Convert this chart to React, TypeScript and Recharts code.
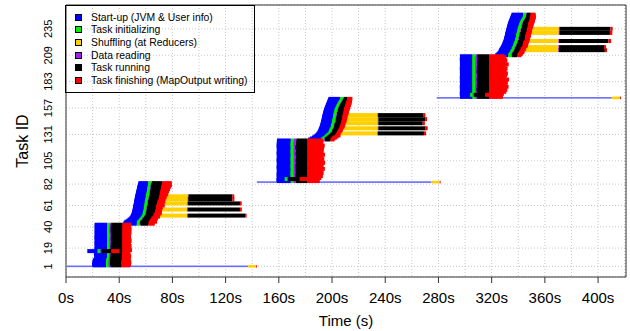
import {
  Bar,
  BarChart,
  CartesianGrid,
  Label,
  Legend,
  ReferenceArea,
  XAxis,
  YAxis,
} from "recharts";

const FONT = '"Liberation Sans", Arial, Helvetica, sans-serif';

// one task = [start, startUp, init, shuffle, read, run, finish] in seconds
type Task = number[];

const job1Master: Task = [0.5, 136.5, 0, 6.0, 0, 0, 0.6];
const job1Maps: Task[] = [
  [20.0, 10.2, 2.0, 0, 1.5, 8.0, 6.5], [19.6, 10.4, 2.2, 0, 1.2, 8.5, 7.0], [20.2, 10.0, 2.0, 0, 1.0, 8.8, 5.5],
  [19.8, 10.5, 1.8, 0, 1.4, 8.0, 7.6], [20.4, 9.8, 2.1, 0, 0.8, 9.0, 6.0], [20.1, 10.1, 2.0, 0, 1.2, 8.4, 5.2],
  [21.5, 9.4, 1.9, 0, 1.0, 8.6, 6.4], [21.2, 9.6, 2.0, 0, 0.6, 9.2, 4.8], [21.6, 9.2, 2.2, 0, 1.1, 8.0, 5.5],
  [21.4, 9.5, 1.8, 0, 0.9, 8.8, 6.6], [21.8, 9.0, 2.0, 0, 1.3, 8.2, 5.0], [21.0, 9.8, 2.0, 0, 1.0, 8.5, 6.2],
  [21.5, 9.3, 2.2, 0, 0.7, 8.9, 5.6], [21.3, 9.6, 1.9, 0, 1.2, 8.3, 4.6], [16.0, 7.6, 2.4, 0, 0.8, 7.2, 6.2],
  [21.7, 9.1, 2.0, 0, 0.9, 9.1, 6.8], [21.4, 9.6, 2.1, 0, 1.4, 7.9, 5.4], [21.8, 9.2, 1.8, 0, 1.0, 8.7, 6.0],
  [21.5, 9.5, 2.0, 0, 0.6, 9.3, 4.9], [21.9, 9.0, 2.2, 0, 1.2, 8.1, 6.9], [21.6, 9.4, 1.9, 0, 0.8, 8.8, 5.3],
  [21.7, 9.3, 2.0, 0, 1.5, 7.8, 6.4], [21.4, 9.7, 2.1, 0, 0.9, 8.6, 4.8], [21.8, 9.1, 1.8, 0, 1.1, 9.0, 5.9],
  [21.6, 9.5, 2.0, 0, 0.7, 8.4, 7.1], [21.9, 9.0, 2.2, 0, 1.3, 8.2, 5.2], [21.5, 9.4, 1.9, 0, 1.0, 8.9, 6.3],
  [21.7, 9.2, 2.0, 0, 0.8, 9.2, 4.7], [21.4, 9.6, 2.1, 0, 1.2, 8.0, 6.6], [21.8, 9.3, 1.9, 0, 0.9, 8.7, 5.5],
  [21.6, 9.4, 2.0, 0, 1.4, 8.1, 6.0], [21.9, 9.1, 2.2, 0, 0.6, 9.1, 5.0], [21.5, 9.5, 1.8, 0, 1.1, 8.5, 6.8],
  [21.7, 9.2, 2.0, 0, 0.8, 8.8, 5.4], [21.6, 9.6, 2.1, 0, 1.2, 8.3, 6.2], [21.8, 9.0, 1.9, 0, 1.0, 9.0, 4.6],
  [21.5, 9.5, 2.0, 0, 0.7, 8.6, 7.0], [21.9, 9.2, 2.2, 0, 1.3, 8.2, 5.7], [21.6, 9.4, 1.8, 0, 0.9, 8.9, 6.1],
  [21.7, 9.3, 2.0, 0, 1.1, 8.4, 5.0], [21.5, 9.6, 2.1, 0, 0.8, 8.7, 6.4],
];
const job1Wave2: Task[] = [
  [43.0, 10.2, 2.3, 0, 0.6, 5.8, 4.8], [43.4, 10.0, 2.1, 0, 0.5, 6.4, 3.9], [44.0, 9.8, 2.4, 0, 0.7, 6.0, 5.6],
  [45.4, 9.4, 2.2, 0, 0.5, 5.6, 4.3], [46.3, 9.0, 2.0, 0, 0.6, 6.2, 3.6], [47.2, 8.8, 2.3, 0, 0.5, 5.4, 4.9],
  [48.0, 8.6, 2.1, 0, 0.4, 5.9, 3.8], [48.5, 8.5, 2.2, 0, 0.6, 6.3, 4.6], [48.9, 8.8, 2.3, 31.0, 0.4, 43.2, 1.2],
  [49.2, 8.4, 2.0, 0, 0.5, 5.7, 3.5], [49.5, 8.3, 2.1, 0, 0.5, 6.8, 4.4], [49.7, 8.4, 2.3, 0, 0.6, 5.9, 5.2],
  [49.9, 8.2, 2.0, 0, 0.4, 6.5, 3.9], [50.1, 8.5, 2.2, 0, 0.5, 6.1, 4.8], [50.2, 8.4, 2.2, 30.1, 0.5, 39.4, 1.4],
  [50.4, 8.1, 2.1, 0, 0.6, 7.0, 3.6], [50.5, 8.2, 2.0, 0, 0.5, 6.6, 5.0], [50.7, 8.4, 2.3, 0, 0.4, 6.0, 4.2],
  [50.8, 8.1, 2.1, 0, 0.6, 7.2, 5.4], [51.0, 8.3, 2.2, 0, 0.5, 6.4, 3.8], [51.1, 8.2, 2.1, 29.7, 0.5, 39.2, 1.3],
  [51.2, 8.0, 2.0, 0, 0.5, 7.0, 4.9], [51.4, 8.1, 2.2, 0, 0.6, 6.8, 5.6], [51.5, 8.3, 2.0, 0, 0.4, 7.4, 4.3],
  [51.7, 8.1, 2.2, 29.4, 0.5, 33.2, 1.5], [51.8, 8.2, 2.1, 0, 0.6, 7.5, 4.6], [52.0, 8.1, 2.2, 0, 0.5, 7.0, 5.8],
  [52.1, 8.0, 2.2, 29.3, 0.5, 33.0, 1.4], [52.3, 8.2, 2.0, 0, 0.6, 7.6, 5.0], [52.5, 8.0, 2.3, 0, 0.5, 7.1, 6.4],
  [52.7, 7.9, 2.1, 0, 0.5, 7.4, 5.6], [52.8, 8.1, 2.2, 0, 0.5, 7.8, 5.4], [53.0, 7.9, 2.1, 0, 0.6, 7.3, 6.6],
  [53.2, 8.0, 2.3, 0, 0.4, 8.0, 5.2], [53.4, 7.8, 2.0, 0, 0.5, 7.6, 6.9], [53.5, 7.9, 2.2, 0, 0.6, 8.2, 5.8],
  [53.7, 7.7, 2.1, 0, 0.5, 7.4, 7.2], [53.9, 7.8, 2.3, 0, 0.5, 8.1, 6.4], [54.1, 7.6, 2.0, 0, 0.6, 7.8, 7.5],
  [54.3, 7.7, 2.2, 0, 0.4, 8.4, 6.0], [54.5, 7.5, 2.1, 0, 0.5, 7.9, 7.0],
];

const job2Master: Task = [143.5, 131.0, 0, 6.5, 0, 0, 0.6];
const job2Maps: Task[] = [
  [158.6, 10.4, 2.3, 0, 1.6, 8.4, 9.5], [158.2, 10.8, 2.5, 0, 2.2, 7.6, 8.8], [158.4, 6.0, 1.8, 0, 1.0, 8.4, 11.0],
  [158.8, 10.2, 2.4, 0, 3.0, 7.2, 10.4], [158.5, 10.6, 2.2, 0, 1.8, 8.6, 9.0], [158.9, 10.0, 2.6, 0, 2.6, 7.4, 11.6],
  [158.3, 10.7, 2.3, 0, 1.2, 9.0, 8.2], [158.7, 10.3, 2.5, 0, 3.4, 6.8, 10.9], [158.4, 10.5, 2.2, 0, 2.0, 8.2, 12.4],
  [158.8, 10.1, 2.4, 0, 1.5, 8.8, 9.6], [158.5, 10.6, 2.3, 0, 2.8, 7.0, 11.2], [158.9, 10.2, 2.5, 0, 1.0, 9.2, 8.6],
  [158.6, 10.4, 2.2, 0, 3.2, 7.4, 12.8], [158.3, 10.7, 2.4, 0, 1.9, 8.4, 10.0], [158.7, 10.3, 2.6, 0, 2.4, 7.8, 11.5],
  [158.4, 10.5, 2.3, 0, 1.3, 8.9, 9.2], [158.8, 10.1, 2.5, 0, 3.0, 7.1, 12.2], [158.5, 10.6, 2.2, 0, 2.2, 8.0, 10.6],
  [158.9, 10.2, 2.4, 0, 1.6, 8.7, 13.0], [158.6, 10.4, 2.3, 0, 2.7, 7.5, 9.8], [158.3, 10.7, 2.5, 0, 1.1, 9.3, 11.9],
  [158.7, 10.3, 2.2, 0, 3.3, 7.0, 10.3], [158.4, 10.5, 2.4, 0, 2.0, 8.3, 12.6], [158.8, 10.1, 2.6, 0, 1.4, 8.8, 9.4],
  [158.5, 10.6, 2.3, 0, 2.9, 7.3, 11.4], [158.9, 10.2, 2.5, 0, 1.7, 8.5, 10.8], [158.6, 10.4, 2.2, 0, 2.5, 7.8, 13.2],
  [158.3, 10.7, 2.4, 0, 1.2, 9.1, 9.7], [158.7, 10.3, 2.3, 0, 3.1, 7.2, 11.8], [158.4, 10.5, 2.5, 0, 1.8, 8.6, 10.2],
  [158.8, 10.1, 2.2, 0, 2.3, 7.9, 12.5], [158.5, 10.6, 2.4, 0, 1.5, 8.8, 9.0], [158.9, 10.2, 2.6, 0, 2.8, 7.4, 11.0],
  [158.6, 10.4, 2.3, 0, 1.0, 9.4, 12.3], [158.3, 10.7, 2.5, 0, 3.2, 7.0, 10.5], [158.7, 10.3, 2.2, 0, 2.1, 8.2, 13.0],
  [158.4, 10.5, 2.4, 0, 1.6, 8.7, 9.9], [158.8, 10.1, 2.3, 0, 2.6, 7.6, 11.7], [158.5, 10.6, 2.5, 0, 1.3, 9.0, 10.4],
  [158.9, 10.2, 2.2, 0, 3.0, 7.2, 12.1], [158.6, 10.4, 2.4, 0, 1.9, 8.4, 11.3],
];
const job2Wave2: Task[] = [
  [182.0, 9.6, 2.4, 0, 0.6, 4.2, 3.0], [183.5, 9.2, 2.2, 0, 0.5, 4.6, 2.6], [185.0, 8.8, 2.3, 0, 0.4, 4.0, 3.4],
  [186.0, 8.6, 2.1, 0, 0.6, 4.8, 2.8], [187.0, 8.5, 2.4, 0, 0.5, 4.3, 3.6], [188.0, 8.4, 2.2, 0, 0.5, 4.0, 3.0],
  [188.5, 9.0, 2.3, 34.2, 0.5, 34.6, 1.6], [189.0, 8.4, 2.3, 0, 0.4, 3.6, 2.8], [189.5, 8.3, 2.1, 0, 0.6, 4.0, 2.6],
  [189.8, 8.5, 2.2, 0, 0.5, 3.8, 3.0], [190.1, 8.2, 2.4, 0, 0.5, 4.2, 2.8], [190.4, 8.8, 2.2, 32.9, 0.5, 35.6, 1.5],
  [190.7, 8.4, 2.2, 0, 0.4, 4.0, 3.2], [191.0, 8.3, 2.3, 0, 0.6, 4.2, 3.0], [191.2, 8.1, 2.1, 0, 0.5, 4.6, 3.2],
  [191.4, 8.4, 2.2, 0, 0.5, 4.1, 3.4], [191.6, 8.5, 2.2, 32.0, 0.5, 33.4, 1.6], [191.8, 8.2, 2.4, 0, 0.4, 4.3, 3.2],
  [192.0, 8.3, 2.2, 0, 0.6, 4.0, 3.6], [192.2, 8.1, 2.3, 0, 0.5, 4.5, 3.4], [192.3, 8.3, 2.3, 31.5, 0.4, 35.2, 1.4],
  [192.5, 8.2, 2.1, 0, 0.5, 4.2, 3.8], [192.6, 8.4, 2.2, 0, 0.4, 4.4, 3.4], [192.8, 8.2, 2.3, 0, 0.6, 4.0, 3.8],
  [193.0, 8.2, 2.1, 30.8, 0.5, 33.8, 1.8], [193.2, 8.0, 2.2, 0, 0.5, 4.6, 3.6], [193.4, 8.3, 2.1, 0, 0.5, 4.2, 3.8],
  [193.6, 8.1, 2.4, 0, 0.4, 4.4, 3.4], [193.8, 8.2, 2.2, 0, 0.6, 4.0, 4.0], [194.0, 8.0, 2.3, 0, 0.5, 4.4, 3.6],
  [194.3, 8.3, 2.1, 0, 0.5, 3.8, 4.2], [194.6, 8.1, 2.2, 0, 0.4, 4.2, 3.8], [194.9, 8.4, 2.3, 0, 0.6, 3.6, 4.0],
  [195.2, 8.2, 2.2, 0, 0.5, 3.8, 3.6], [195.5, 8.4, 2.1, 0, 0.5, 3.6, 4.2], [195.8, 8.5, 2.4, 0, 0.4, 3.4, 3.8],
  [196.1, 8.6, 2.2, 0, 0.6, 3.2, 4.0], [196.4, 8.8, 2.3, 0, 0.5, 3.0, 3.6], [196.7, 9.0, 2.2, 0, 0.4, 2.9, 3.8],
  [197.0, 9.2, 2.1, 0, 0.5, 2.8, 3.4], [197.3, 9.0, 2.2, 0, 0.4, 2.8, 3.6],
];

const job3Master: Task = [278.7, 131.6, 0, 6.2, 0, 0, 0.7];
const job3Maps: Task[] = [
  [296.2, 9.4, 2.3, 0, 1.2, 9.0, 10.4], [296.6, 9.0, 2.5, 0, 0.8, 9.6, 8.6], [298.4, 5.4, 2.0, 0, 1.0, 8.2, 11.6],
  [296.0, 9.6, 2.2, 0, 1.6, 8.6, 11.2], [296.4, 9.3, 2.4, 0, 2.2, 8.0, 9.5], [296.8, 8.9, 2.3, 0, 1.0, 9.4, 12.6],
  [296.1, 9.6, 2.5, 0, 2.6, 7.6, 10.2], [296.5, 9.2, 2.2, 0, 0.7, 9.8, 13.4], [296.3, 9.4, 2.4, 0, 1.8, 8.4, 9.8],
  [296.7, 9.0, 2.3, 0, 2.9, 7.4, 12.0], [296.0, 9.7, 2.5, 0, 1.3, 9.0, 14.2], [296.4, 9.3, 2.2, 0, 0.9, 9.5, 10.8],
  [296.8, 8.9, 2.4, 0, 2.4, 7.9, 12.9], [296.2, 9.5, 2.3, 0, 1.5, 8.8, 9.4], [296.6, 9.1, 2.5, 0, 3.0, 7.2, 13.8],
  [296.1, 9.6, 2.2, 0, 1.1, 9.3, 11.5], [296.5, 9.2, 2.4, 0, 2.0, 8.2, 10.0], [296.3, 9.4, 2.3, 0, 0.8, 9.7, 14.6],
  [296.7, 9.0, 2.5, 0, 2.7, 7.6, 11.0], [296.0, 9.7, 2.2, 0, 1.4, 8.9, 12.4], [296.4, 9.3, 2.4, 0, 2.3, 8.0, 9.6],
  [296.8, 8.9, 2.3, 0, 1.0, 9.4, 13.2], [296.2, 9.5, 2.5, 0, 1.9, 8.5, 10.6], [296.6, 9.1, 2.2, 0, 2.8, 7.5, 14.0],
  [296.1, 9.6, 2.4, 0, 1.2, 9.1, 11.8], [296.5, 9.2, 2.3, 0, 0.7, 9.8, 9.2], [296.3, 9.4, 2.5, 0, 2.5, 7.8, 12.8],
  [296.7, 9.0, 2.2, 0, 1.6, 8.7, 10.4], [296.0, 9.7, 2.4, 0, 2.1, 8.2, 13.6], [296.4, 9.3, 2.3, 0, 0.9, 9.5, 11.2],
  [296.8, 8.9, 2.5, 0, 3.0, 7.3, 12.2], [296.2, 9.5, 2.2, 0, 1.3, 9.0, 9.8], [296.6, 9.1, 2.4, 0, 2.4, 7.9, 14.4],
  [296.1, 9.6, 2.3, 0, 1.7, 8.6, 10.9], [296.5, 9.2, 2.5, 0, 0.8, 9.6, 12.6], [296.3, 9.4, 2.2, 0, 2.6, 7.7, 10.2],
  [296.7, 9.0, 2.4, 0, 1.1, 9.2, 13.4], [296.0, 9.7, 2.3, 0, 2.2, 8.1, 11.4], [296.4, 9.3, 2.5, 0, 1.5, 8.8, 9.5],
  [296.8, 8.9, 2.2, 0, 2.9, 7.4, 12.8], [296.2, 9.5, 2.4, 0, 1.0, 9.3, 11.0],
];
const job3Wave2: Task[] = [
  [322.6, 9.8, 2.4, 0, 0.5, 4.0, 3.0], [323.5, 9.5, 2.3, 0, 0.6, 3.8, 3.4], [324.3, 9.3, 2.2, 0, 0.5, 4.2, 3.0],
  [325.0, 9.2, 2.4, 0, 0.4, 3.9, 3.6], [325.3, 9.0, 2.3, 0, 0.5, 4.4, 3.2], [325.6, 10.2, 2.4, 31.8, 0.5, 34.6, 1.6],
  [326.1, 8.9, 2.2, 0, 0.6, 4.0, 3.8], [326.6, 8.8, 2.3, 0, 0.5, 4.3, 3.4], [327.0, 9.4, 2.3, 31.5, 0.5, 33.8, 1.5],
  [327.4, 8.7, 2.2, 0, 0.4, 4.5, 3.6], [327.8, 8.6, 2.4, 0, 0.6, 4.1, 3.8], [328.1, 8.8, 2.2, 0, 0.5, 4.4, 3.2],
  [328.4, 8.5, 2.3, 0, 0.5, 4.0, 3.9], [328.7, 8.7, 2.1, 0, 0.4, 4.6, 3.4], [329.0, 8.8, 2.2, 30.2, 0.4, 37.2, 2.0],
  [329.2, 8.6, 2.3, 0, 0.6, 4.2, 3.6], [329.4, 8.5, 2.2, 0, 0.5, 4.5, 3.2], [329.6, 8.7, 2.4, 0, 0.5, 3.9, 3.8],
  [329.8, 8.5, 2.2, 0, 0.4, 4.3, 3.4], [330.0, 8.6, 2.3, 0, 0.6, 4.0, 3.9], [330.1, 8.4, 2.2, 0, 0.5, 4.6, 3.5],
  [330.3, 8.6, 2.1, 0, 0.5, 4.2, 3.8], [330.5, 8.6, 2.3, 29.0, 0.5, 38.0, 1.8], [330.7, 8.5, 2.4, 0, 0.4, 4.4, 3.6],
  [330.9, 8.7, 2.2, 0, 0.6, 4.0, 3.9], [331.1, 8.5, 2.3, 0, 0.5, 4.3, 3.5], [331.3, 8.4, 2.2, 28.6, 0.5, 38.4, 1.6],
  [331.5, 8.6, 2.2, 0, 0.5, 4.1, 3.8], [331.7, 8.5, 2.4, 0, 0.4, 4.4, 3.4], [331.9, 8.7, 2.2, 0, 0.6, 3.9, 3.9],
  [332.1, 8.6, 2.3, 0, 0.5, 4.2, 3.6], [332.3, 8.8, 2.1, 0, 0.5, 3.8, 4.0], [332.6, 8.7, 2.3, 0, 0.4, 4.0, 3.6],
  [332.9, 8.9, 2.2, 0, 0.6, 3.6, 4.0], [333.2, 9.0, 2.4, 0, 0.5, 3.4, 3.8], [333.5, 9.2, 2.2, 0, 0.5, 3.2, 4.0],
  [333.8, 9.3, 2.3, 0, 0.4, 3.0, 3.8], [334.1, 9.4, 2.2, 0, 0.5, 3.0, 4.0], [334.4, 9.2, 2.3, 0, 0.5, 2.9, 3.6],
  [334.7, 9.0, 2.2, 0, 0.4, 3.0, 3.8], [335.0, 8.8, 2.2, 0, 0.4, 3.0, 3.6],
];

const phaseKeys = ["startUp", "init", "shuffle", "read", "run", "finish"];
const phaseNames = [
  "Start-up (JVM & User info)",
  "Task initializing",
  "Shuffling (at Reducers)",
  "Data reading",
  "Task running",
  "Task finishing (MapOutput writing)",
];
const phaseColors = ["#0000ff", "#00ee00", "#ffd000", "#a020f0", "#000000", "#ff0000"];
const masterBlue = "#6b6bff";

const xTicks = [0, 20, 40, 60, 80, 100, 120, 140, 160, 180, 200, 220, 240, 260, 280, 300, 320, 340, 360, 380, 400, 420];
const xLabels = [0, 40, 80, 120, 160, 200, 240, 280, 320, 360, 400];
const yTicks = [1, 19, 40, 61, 82, 105, 131, 157, 183, 209, 235];
const xMax = 421;
const idMin = -9;
const idMax = 258;

const jobs = [
  { master: job1Master, tasks: [...job1Maps, ...job1Wave2] },
  { master: job2Master, tasks: [...job2Maps, ...job2Wave2] },
  { master: job3Master, tasks: [...job3Maps, ...job3Wave2] },
];

const taskList = jobs.flatMap((j) => [
  { t: j.master, master: true },
  ...j.tasks.map((t) => ({ t, master: false })),
]);

const rows: Record<string, any>[] = [];
for (let id = idMin; id <= idMax; id++) {
  const item = id >= 1 ? taskList[id - 1] : undefined;
  const t = item ? item.t : [0, 0, 0, 0, 0, 0, 0];
  const row: Record<string, any> = { id, master: item ? item.master : false, start: t[0] };
  phaseKeys.forEach((k, i) => {
    row[k] = t[i + 1];
  });
  rows.push(row);
}

function Hidden() {
  return <g />;
}

function TaskBar(props: any) {
  const { x, y, width, height, fill, payload } = props;
  if (!(width > 0)) return <g />;
  const isMaster = payload && payload.master;
  const thick = isMaster ? (fill === phaseColors[0] ? 1.6 : 2.6) : 4;
  const color = isMaster && fill === phaseColors[0] ? masterBlue : fill;
  return <rect x={x} y={y + height / 2 - thick / 2} width={width} height={thick} fill={color} />;
}

function XTick({ x, y, payload }: any) {
  if (!xLabels.includes(payload.value)) return <g />;
  return (
    <g>
      <line x1={x} x2={x} y1={y} y2={y + 6} stroke="#333" />
      <text x={x} y={y + 26} textAnchor="middle" fontSize={15} fontFamily={FONT} fill="#000">
        {payload.value}s
      </text>
    </g>
  );
}

function YTick({ x, y, payload }: any) {
  const cx = x - 17.5;
  return (
    <text
      x={cx}
      y={y}
      transform={`rotate(-90 ${cx} ${y})`}
      textAnchor="middle"
      dominantBaseline="central"
      fontSize={11}
      fontFamily={FONT}
      fill="#000"
    >
      {payload.value}
    </text>
  );
}

function XTitle({ viewBox }: any) {
  return (
    <text x={viewBox.x + viewBox.width / 2} y={viewBox.y + 49} textAnchor="middle" fontSize={15} fontFamily={FONT} fill="#000">
      Time (s)
    </text>
  );
}

function YTitle({ viewBox }: any) {
  const cy = viewBox.y + viewBox.height / 2;
  return (
    <text
      x={22}
      y={cy}
      transform={`rotate(-90 22 ${cy})`}
      textAnchor="middle"
      dominantBaseline="central"
      fontSize={16}
      fontFamily={FONT}
      fill="#000"
    >
      Task ID
    </text>
  );
}

function LegendBox() {
  return (
    <div
      style={{
        boxSizing: "border-box",
        width: 190,
        height: 88,
        border: "1px solid #000",
        padding: "5px 0 0 9px",
        fontFamily: FONT,
        fontSize: 10.4,
        color: "#000",
      }}
    >
      {phaseNames.map((name, i) => (
        <div key={name} style={{ display: "flex", alignItems: "center", height: 12.6, whiteSpace: "nowrap" }}>
          <span
            style={{
              boxSizing: "border-box",
              width: 7,
              height: 7,
              background: phaseColors[i],
              border: "1px solid #000",
              marginRight: 9,
              flex: "none",
            }}
          />
          {name}
        </div>
      ))}
    </div>
  );
}

export default function App() {
  return (
    <div style={{ position: "absolute", left: 0, top: 0, width: 630, height: 331, background: "#fff" }}>
      <BarChart
        width={630}
        height={331}
        data={rows}
        layout="vertical"
        margin={{ top: 5, right: 4, bottom: 0, left: 0 }}
        barCategoryGap={0}
        barGap={0}
      >
        <XAxis
          type="number"
          domain={[0, xMax]}
          ticks={xTicks}
          interval={0}
          allowDataOverflow
          height={54}
          axisLine={false}
          tickLine={false}
          tickSize={0}
          tickMargin={0}
          tick={XTick}
        >
          <Label content={XTitle} />
        </XAxis>
        <YAxis
          type="category"
          dataKey="id"
          reversed
          width={66}
          ticks={yTicks}
          interval={0}
          axisLine={false}
          tickLine={false}
          tickSize={0}
          tickMargin={0}
          tick={YTick}
        >
          <Label content={YTitle} />
        </YAxis>
        <Bar dataKey="start" stackId="t" shape={Hidden} isAnimationActive={false} legendType="none" />
        {phaseKeys.map((k, i) => (
          <Bar
            key={k}
            dataKey={k}
            name={phaseNames[i]}
            stackId="t"
            fill={phaseColors[i]}
            shape={TaskBar}
            isAnimationActive={false}
          />
        ))}
        <CartesianGrid stroke="#c8c8c8" strokeDasharray="1 2" />
        <ReferenceArea x1={0} x2={xMax} fill="none" stroke="#333" strokeWidth={1} ifOverflow="visible" />
        <Legend
          layout="vertical"
          align="center"
          verticalAlign="middle"
          wrapperStyle={{ left: 65, top: 5 }}
          content={LegendBox}
        />
      </BarChart>
    </div>
  );
}
